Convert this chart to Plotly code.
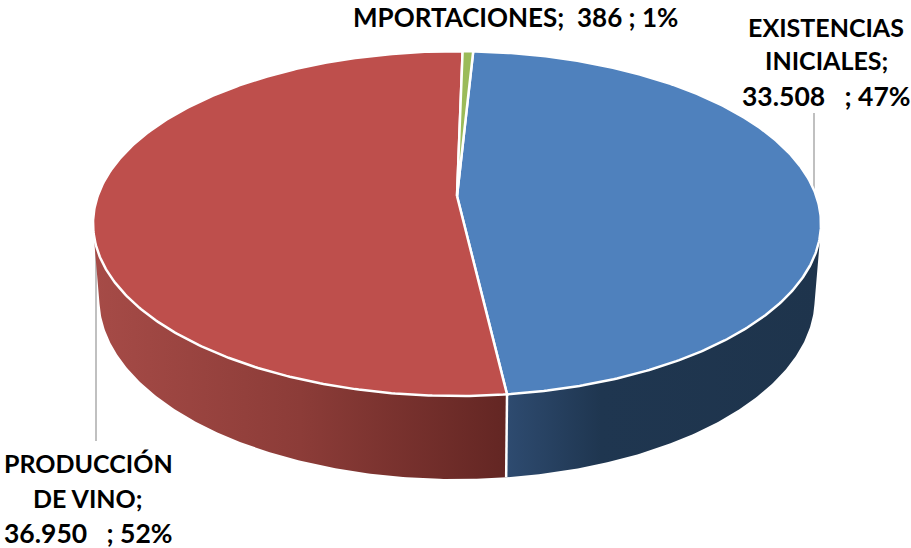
import numpy as np
import plotly.graph_objects as go

# Data
categories = ["EXISTENCIAS INICIALES", "PRODUCCIÓN DE VINO", "IMPORTACIONES"]
values = [33508, 36950, 386]
label_texts = [
    "EXISTENCIAS", "INICIALES;", "33.508\u00a0\u00a0 ; 47%",
    "PRODUCCIÓN", "DE VINO;", "36.950\u00a0\u00a0 ; 52%",
    "MPORTACIONES;\u00a0 386 ; 1%",
]

# Styles and layout
top_colors = ["#4F81BD", "#BE4F4C", "#9BBB59"]
wall_scales = [
    [[0, "#2E4B70"], [0.3, "#1F3650"], [1, "#1E344C"]],
    [[0, "#A64B47"], [0.5, "#8C3C38"], [1, "#632623"]],
]
label_x = [826, 826, 826, 88, 88, 88, 515]
label_y = [27, 60, 96, 463, 498, 533, 17]
label_size = [25, 25, 26.5, 25, 25, 26.5, 26]
leaders = [([814, 814], [113, 190]), ([96, 96], [205, 441])]

# Pie geometry (perspective view of a disc)
first_angle = 3.0
persp = 0.16
top_plane = dict(x0=457.0, y0=196.0, a=359.3, b=168.0)
bottom_plane = dict(x0=457.0, y0=269.5, a=353.0, b=176.0)


def project(deg, plane):
    t = np.radians(deg)
    u, v = np.sin(t), np.cos(t)
    w = 1 + persp * v
    return plane["x0"] + plane["a"] * u / w, plane["y0"] - plane["b"] * v / w


def arc(d0, d1, plane):
    n = max(int(abs(d1 - d0) * 2), 4)
    return project(np.linspace(d0, d1, n), plane)


sweeps = np.array(values) / sum(values) * 360
starts = first_angle + np.concatenate([[0], np.cumsum(sweeps)[:-1]])
ends = starts + sweeps

fig = go.Figure()

for xs, ys in leaders:
    fig.add_trace(go.Scatter(x=xs, y=ys, mode="lines",
                             line=dict(color="#ABABAB", width=1.5)))

# Side walls (visible front part of the two large slices)
wall_ranges = [(101.0, ends[0]), (ends[0], 259.0)]
for (d0, d1), scale in zip(wall_ranges, wall_scales):
    tx, ty = arc(d0, d1, top_plane)
    bx, by = arc(d1, d0, bottom_plane)
    fig.add_trace(go.Scatter(
        x=np.concatenate([tx, bx, tx[:1]]), y=np.concatenate([ty, by, ty[:1]]),
        mode="lines", line=dict(width=0, color="rgba(0,0,0,0)"), fill="toself",
        fillgradient=dict(type="horizontal", colorscale=scale)))

# Separator between the walls
jx0, jy0 = project(ends[0], top_plane)
jx1, jy1 = project(ends[0], bottom_plane)
fig.add_trace(go.Scatter(x=[jx0, jx1], y=[jy0, jy1], mode="lines",
                         line=dict(color="#FFFFFF", width=2.5)))

# Top faces
for s, e, c in zip(starts, ends, top_colors):
    ax, ay = arc(s, e, top_plane)
    fig.add_trace(go.Scatter(
        x=np.concatenate([[top_plane["x0"]], ax, [top_plane["x0"]]]),
        y=np.concatenate([[top_plane["y0"]], ay, [top_plane["y0"]]]),
        mode="lines", fill="toself", fillcolor=c,
        line=dict(color="#FFFFFF", width=2.5)))

for text, x, y, size in zip(label_texts, label_x, label_y, label_size):
    fig.add_annotation(x=x, y=y, text=text, showarrow=False, xanchor="center",
                       yanchor="middle", font=dict(family="Lato", size=size, color="#000000", weight="bold"))

fig.update_layout(
    width=911, height=548, margin=dict(l=0, r=0, t=0, b=0),
    paper_bgcolor="#FFFFFF", plot_bgcolor="#FFFFFF", showlegend=False, hovermode=False,
    xaxis=dict(range=[0, 911], visible=False, fixedrange=True),
    yaxis=dict(range=[548, 0], visible=False, fixedrange=True),
)
fig.write_html("out.html", config={"displayModeBar": False},
               post_script="document.body.style.margin='0';")
